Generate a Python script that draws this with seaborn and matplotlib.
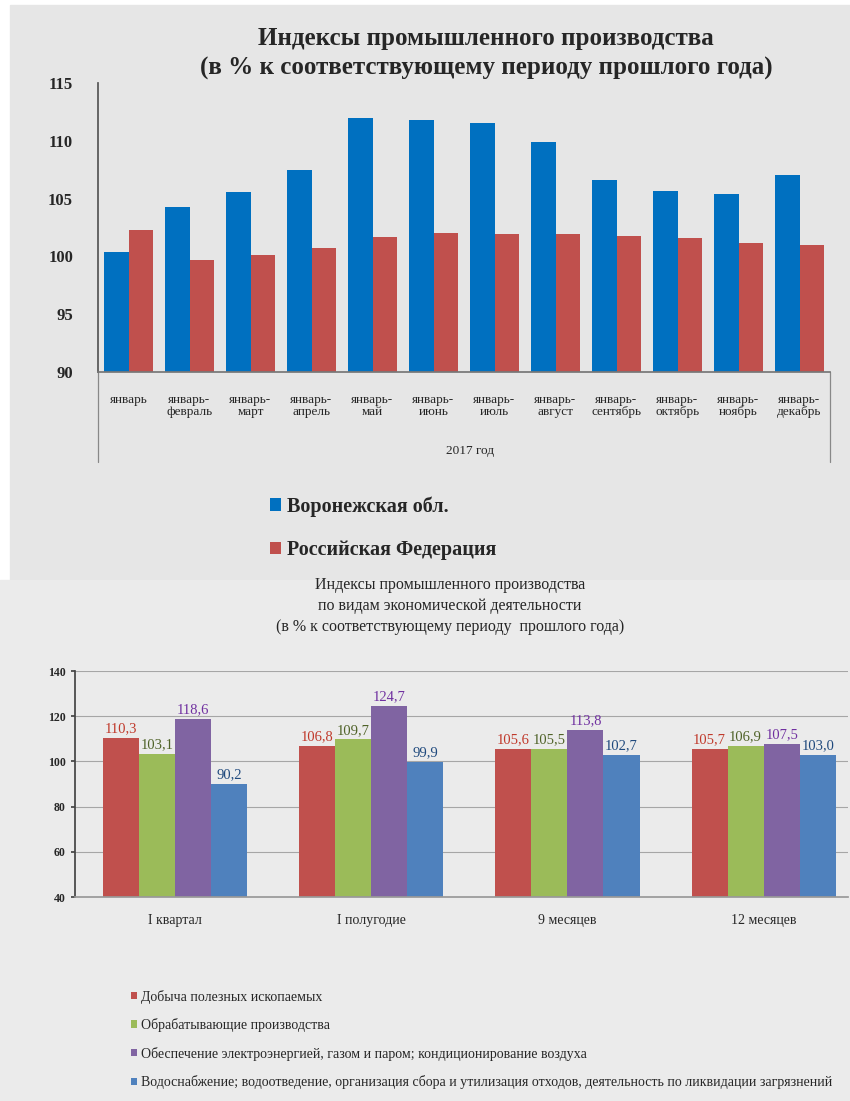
import pandas as pd
import matplotlib.pyplot as plt
import seaborn as sns
from matplotlib.patches import Rectangle

# top chart: cumulative industrial production index, 2017
months = ['январь', 'январь-\nфевраль', 'январь-\nмарт', 'январь-\nапрель',
          'январь-\nмай', 'январь-\nиюнь', 'январь-\nиюль', 'январь-\nавгуст',
          'январь-\nсентябрь', 'январь-\nоктябрь', 'январь-\nноябрь', 'январь-\nдекабрь']
voronezh = [100.4, 104.3, 105.6, 107.5, 112.0, 111.8, 111.5, 109.9, 106.6, 105.7, 105.4, 107.0]
russia = [102.3, 99.7, 100.1, 100.7, 101.7, 102.0, 101.9, 101.9, 101.8, 101.6, 101.2, 101.0]
regions = ['Воронежская обл.', 'Российская Федерация']

# bottom chart: by type of economic activity
periods = ['I квартал', 'I полугодие', '9 месяцев', '12 месяцев']
activities = ['Добыча полезных ископаемых',
              'Обрабатывающие производства',
              'Обеспечение электроэнергией, газом и паром; кондиционирование воздуха',
              'Водоснабжение; водоотведение, организация сбора и утилизация отходов, '
              'деятельность по ликвидации загрязнений']
mining = [110.3, 106.8, 105.6, 105.7]
manufacturing = [103.1, 109.7, 105.5, 106.9]
energy = [118.6, 124.7, 113.8, 107.5]
water = [90.2, 99.9, 102.7, 103.0]

sns.set_theme(style='white')
plt.rcParams['font.family'] = ['Liberation Serif', 'DejaVu Serif']

top = pd.DataFrame({'period': months * 2,
                    'region': [regions[0]] * 12 + [regions[1]] * 12,
                    'value': voronezh + russia})
bottom = pd.DataFrame({'period': periods * 4,
                       'activity': sum([[a] * 4 for a in activities], []),
                       'value': mining + manufacturing + energy + water})

W, H = 850, 1101
fig = plt.figure(figsize=(8.5, 11.01), dpi=100, facecolor='white')
# gray backgrounds of the two pasted pictures
fig.patches.append(Rectangle((10 / W, 1 - 580 / H), 840 / W, 575 / H,
                             transform=fig.transFigure, color='#e6e6e6', zorder=-10))
fig.patches.append(Rectangle((0, 0), 1, 1 - 580 / H,
                             transform=fig.transFigure, color='#ebebeb', zorder=-10))

# ---------- top chart ----------
ax1 = fig.add_axes([98 / W, 1 - 372 / H, 732 / W, 289 / H])
ax1.set_facecolor('none')
sns.barplot(data=top, x='period', y='value', hue='region',
            palette=['#0070c0', '#c0504d'], saturation=1, width=0.79, gap=0,
            linewidth=0, errorbar=None, ax=ax1, legend=True)
ax1.set_ylim(90, 115)
ax1.set_yticks(range(90, 116, 5))
ax1.set_xlim(-0.5, 11.5)
ax1.set_xlabel('')
ax1.set_ylabel('')
for s in ['top', 'right']:
    ax1.spines[s].set_visible(False)
ax1.spines['left'].set_color('#555555')
ax1.spines['bottom'].set_color('#777777')
ax1.tick_params(axis='y', labelsize=12, length=0, pad=18)
ax1.tick_params(axis='x', labelsize=9.5, length=0, pad=16)
for lab in ax1.get_yticklabels():
    lab.set_fontweight('bold')
for lab in ax1.get_xticklabels():
    lab.set_ha('center')
    lab.set_linespacing(1.0)
# category group frame
for x in [0.0, 1.0]:
    ax1.plot([x, x], [0, -0.31], transform=ax1.transAxes, color='#888888',
             lw=0.9, clip_on=False)
fig.text(470 / W, 1 - 451 / H, '2017 год', ha='center', va='center', fontsize=9.5)

fig.text(486 / W, 1 - 38 / H, 'Индексы промышленного производства',
         ha='center', va='center', fontsize=18, fontweight='bold')
fig.text(486 / W, 1 - 68 / H, '(в % к соответствующему периоду прошлого года)',
         ha='center', va='center', fontsize=18, fontweight='bold')

h, l = ax1.get_legend_handles_labels()
ax1.get_legend().remove()
fig.legend(h, l, loc='upper left', bbox_to_anchor=(252 / W, 1 - 478 / H),
           frameon=False, prop={'size': 14.5, 'weight': 'bold'},
           handlelength=0.55, handleheight=0.55, handletextpad=0.3,
           labelspacing=1.15)

# ---------- bottom chart ----------
fig.text(450 / W, 1 - 585 / H, 'Индексы промышленного производства',
         ha='center', va='center', fontsize=11.5)
fig.text(450 / W, 1 - 606 / H, 'по видам экономической деятельности',
         ha='center', va='center', fontsize=11.5)
fig.text(450 / W, 1 - 627 / H, '(в % к соответствующему периоду  прошлого года)',
         ha='center', va='center', fontsize=11.5)

ax2 = fig.add_axes([75 / W, 1 - 897 / H, 773 / W, 226 / H])
ax2.set_facecolor('none')
cols = ['#c0504d', '#9bbb59', '#8064a2', '#4f81bd']
sns.barplot(data=bottom, x='period', y='value', hue='activity',
            palette=cols, saturation=1, width=0.735, gap=0, linewidth=0,
            errorbar=None, ax=ax2, legend=True)
ax2.set_ylim(40, 140)
ax2.set_yticks(range(40, 141, 20))
ax2.set_xlim(-0.51, 3.43)
ax2.set_xlabel('')
ax2.set_ylabel('')
ax2.yaxis.grid(True, color='#a6a6a6', lw=0.8)
ax2.set_axisbelow(True)
for s in ['top', 'right']:
    ax2.spines[s].set_visible(False)
ax2.spines['left'].set_color('#444444')
ax2.spines['bottom'].set_color('#999999')
ax2.tick_params(axis='y', labelsize=8.5, length=3, left=True, color='#444444')
ax2.tick_params(axis='x', labelsize=10, length=0, pad=12)
for lab in ax2.get_yticklabels():
    lab.set_fontweight('bold')

lab_cols = ['#c0392b', '#4f6228', '#7030a0', '#1f497d']
for cont, c in zip(ax2.containers, lab_cols):
    ax2.bar_label(cont, labels=[f'{v.get_height():.1f}'.replace('.', ',') for v in cont],
                  color=c, fontsize=10.5, padding=2)

h, l = ax2.get_legend_handles_labels()
ax2.get_legend().remove()
fig.legend(h, l, loc='upper left', bbox_to_anchor=(118 / W, 1 - 977 / H),
           frameon=False, prop={'size': 10},
           handlelength=0.45, handleheight=0.45, handletextpad=0.3,
           labelspacing=1.05)

fig.savefig('out.png', dpi=100, facecolor=fig.get_facecolor())
